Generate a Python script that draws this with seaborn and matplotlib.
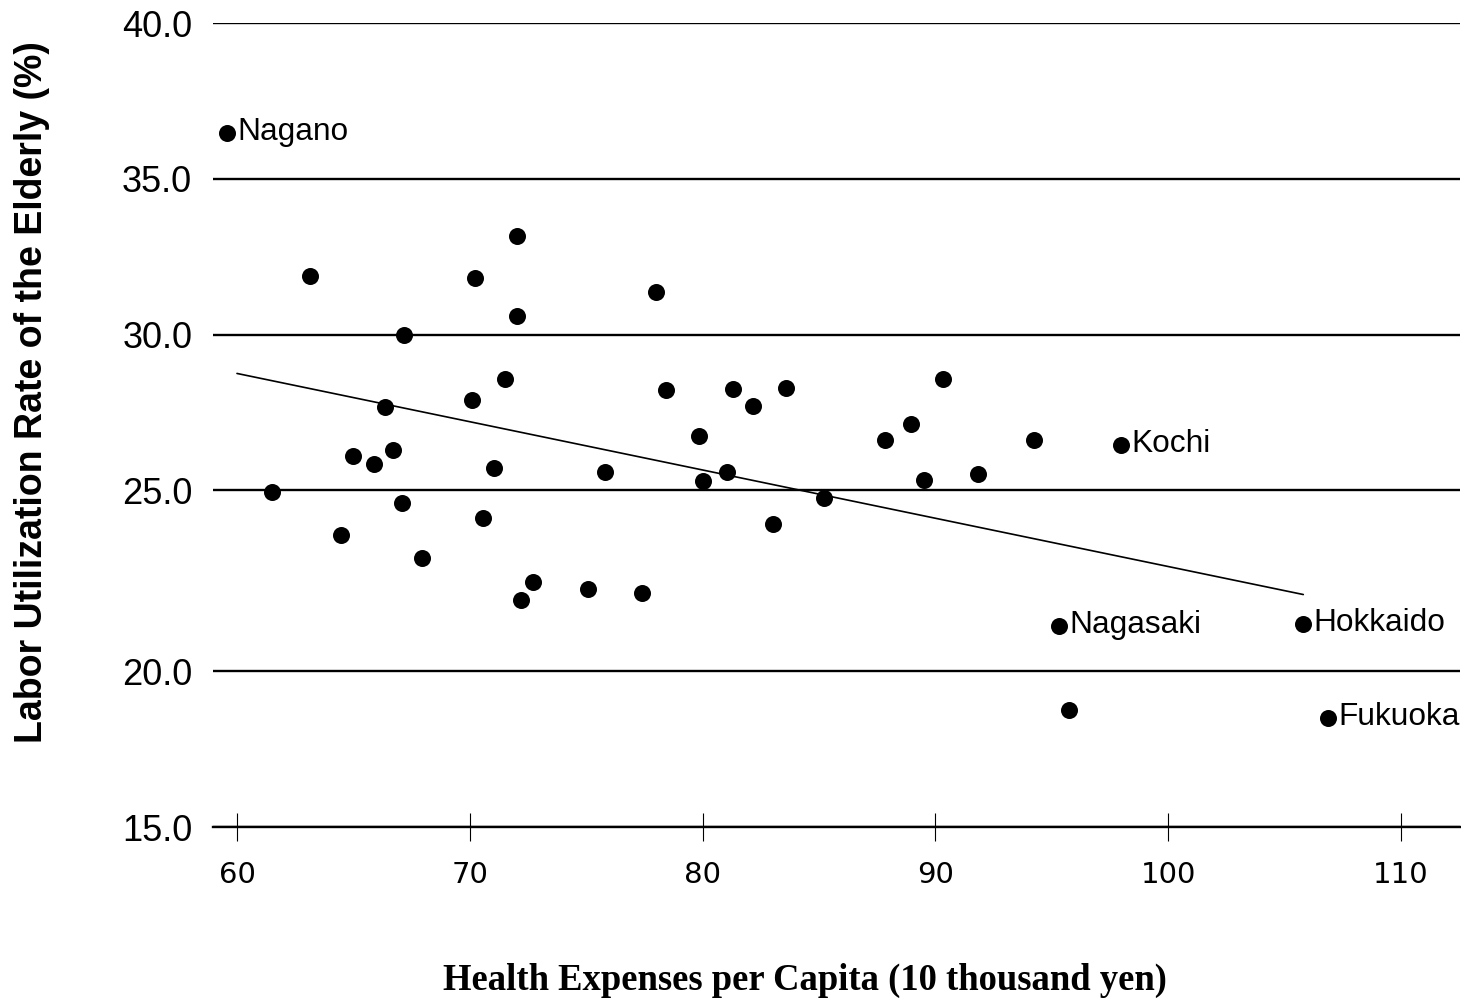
import numpy as np
import pandas as pd
import matplotlib
matplotlib.use("Agg")
import matplotlib.pyplot as plt
import seaborn as sns

# ---- data ----
health = [59.57, 72.04, 63.14, 70.22, 72.01, 67.19, 66.36, 70.08, 71.51, 64.99,
          65.88, 66.71, 71.05, 61.49, 67.10, 70.58, 64.47, 67.95, 72.73, 72.19,
          75.09, 75.81, 78.01, 78.44, 81.32, 82.15, 83.58, 79.86, 80.03, 81.06,
          85.23, 83.04, 77.41, 87.85, 88.97, 90.33, 89.51, 91.83, 94.24, 97.96,
          95.31, 105.80, 95.74, 106.88]
labor = [36.47, 33.15, 31.88, 31.83, 30.59, 29.98, 27.66, 27.89, 28.56, 26.09,
         25.83, 26.28, 25.70, 24.96, 24.66, 24.22, 23.76, 23.14, 22.46, 21.96,
         22.28, 25.59, 31.36, 28.21, 28.24, 27.72, 28.29, 26.74, 25.30, 25.58,
         24.79, 24.06, 22.16, 26.61, 27.12, 28.57, 25.33, 25.51, 26.60, 26.45,
         21.25, 21.30, 18.75, 18.50]
names = ["Nagano"] + [""] * 38 + ["Kochi", "Nagasaki", "Hokkaido", "", "Fukuoka"]

trend_x = [60.0, 105.8]
trend_y = [28.75, 22.12]

x_ticks = [60, 70, 80, 90, 100, 110]
y_ticks = [15, 20, 25, 30, 35, 40]

xlabel = "Health Expenses per Capita (10 thousand yen)"
ylabel = "Labor Utilization Rate of the Elderly (%)"

df = pd.DataFrame({"health": health, "labor": labor, "name": names})
trend = pd.DataFrame({"x": trend_x, "y": trend_y})

sns.set_style("white")
plt.rcParams["font.family"] = ["Liberation Sans", "DejaVu Sans"]
plt.rcParams.update({"text.color": "black", "axes.labelcolor": "black",
                     "xtick.color": "black", "ytick.color": "black"})

# the reference's value axis has a wider 20-25 band; reproduce with a piecewise scale
K = 181.0 / 155.7


def fwd(v):
    v = np.asarray(v, dtype=float)
    return np.where(v < 20, v, np.where(v < 25, 20 + (v - 20) * K, v + 5 * (K - 1)))


def inv(t):
    t = np.asarray(t, dtype=float)
    return np.where(t < 20, t, np.where(t < 20 + 5 * K, 20 + (t - 20) / K, t - 5 * (K - 1)))


fig = plt.figure(figsize=(14.61, 10.06), dpi=100)
ax = fig.add_axes([0.1458, 0.1779, 0.8535, 0.7992])
ax.set_yscale("function", functions=(fwd, inv))

sns.lineplot(data=trend, x="x", y="y", ax=ax, color="black", linewidth=1.2, zorder=3)
sns.scatterplot(data=df, x="health", y="labor", ax=ax, color="black", s=150,
                linewidth=0, zorder=4)

for _, r in df.iterrows():
    if r["name"]:
        ax.annotate(r["name"], (r["health"], r["labor"]), xytext=(7.5, -5),
                    textcoords="offset points", ha="left", va="baseline",
                    fontsize=22.8, color="black", zorder=5)

ax.set_xlim(58.97, 112.53)
ax.set_ylim(15, 40)
ax.set_xticks(x_ticks)
ax.set_xticklabels([str(v) for v in x_ticks], fontfamily="DejaVu Sans", fontsize=21)
ax.set_yticks(y_ticks)
ax.set_yticklabels([f"{v:.1f}" for v in y_ticks], fontsize=26)
ax.yaxis.set_minor_locator(matplotlib.ticker.NullLocator())

ax.tick_params(axis="x", direction="inout", length=19.5, width=0.8, color="black",
               pad=14.5, bottom=True)
ax.tick_params(axis="y", length=0, pad=15)

ax.yaxis.grid(True, color="black", linewidth=1.7)
ax.xaxis.grid(False)
for s in ["left", "right", "top"]:
    ax.spines[s].set_visible(False)
ax.spines["bottom"].set_color("black")
ax.spines["bottom"].set_linewidth(1.7)

ax.set_xlabel(xlabel, fontfamily="Liberation Serif", fontweight="bold", fontsize=26.4)
ax.xaxis.set_label_coords(0.4747, -0.169)
ax.xaxis.label.set_va("top")
ax.set_ylabel(ylabel, fontweight="bold", fontsize=27)
ax.yaxis.set_label_coords(-0.1307, 0.541)

fig.savefig("out.png", dpi=100)
